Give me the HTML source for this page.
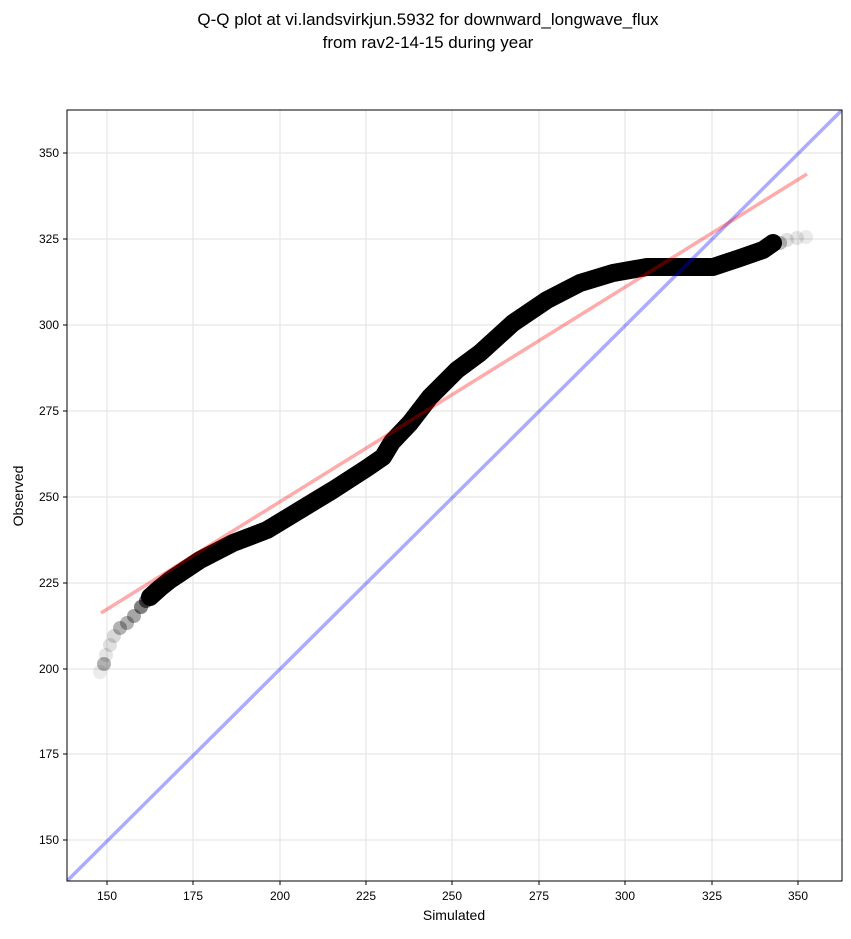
<!DOCTYPE html>
<html><head><meta charset="utf-8"><style>
body{margin:0;background:#fff;}
text{font-family:"Liberation Sans","DejaVu Sans",sans-serif;}
</style></head><body>
<svg width="851" height="934" viewBox="0 0 851 934" xmlns="http://www.w3.org/2000/svg">
<rect width="851" height="934" fill="#fff"/>
<text x="428" y="25" font-size="17" text-anchor="middle">Q-Q plot at vi.landsvirkjun.5932 for downward_longwave_flux</text>
<text x="428" y="48" font-size="17" text-anchor="middle">from rav2-14-15 during year</text>
<clipPath id="c"><rect x="67" y="110" width="775" height="771"/></clipPath>
<g stroke="#e6e6e6" stroke-width="1.2">
<line x1="107" y1="110" x2="107" y2="881"/><line x1="193" y1="110" x2="193" y2="881"/><line x1="280" y1="110" x2="280" y2="881"/><line x1="366" y1="110" x2="366" y2="881"/><line x1="452" y1="110" x2="452" y2="881"/><line x1="539" y1="110" x2="539" y2="881"/><line x1="625" y1="110" x2="625" y2="881"/><line x1="712" y1="110" x2="712" y2="881"/><line x1="798" y1="110" x2="798" y2="881"/>
<line x1="67" y1="153" x2="842" y2="153"/><line x1="67" y1="239" x2="842" y2="239"/><line x1="67" y1="325" x2="842" y2="325"/><line x1="67" y1="411" x2="842" y2="411"/><line x1="67" y1="497" x2="842" y2="497"/><line x1="67" y1="583" x2="842" y2="583"/><line x1="67" y1="669" x2="842" y2="669"/><line x1="67" y1="754" x2="842" y2="754"/><line x1="67" y1="840" x2="842" y2="840"/>
</g>
<g clip-path="url(#c)">
<g fill="#000">
<circle cx="100" cy="672" r="7" fill-opacity="0.08"/><circle cx="104" cy="664" r="7" fill-opacity="0.3"/><circle cx="106" cy="655" r="7" fill-opacity="0.1"/><circle cx="110" cy="645" r="7" fill-opacity="0.12"/><circle cx="114" cy="636" r="7" fill-opacity="0.15"/><circle cx="120" cy="628" r="7" fill-opacity="0.3"/><circle cx="127" cy="623" r="7" fill-opacity="0.3"/><circle cx="134" cy="616" r="7" fill-opacity="0.35"/><circle cx="141" cy="607" r="7" fill-opacity="0.5"/><circle cx="146" cy="601" r="7" fill-opacity="0.6"/>
<circle cx="787" cy="240" r="7" fill-opacity="0.12"/><circle cx="797" cy="238" r="7" fill-opacity="0.1"/><circle cx="806" cy="237" r="7" fill-opacity="0.08"/><circle cx="780" cy="243" r="7" fill-opacity="0.25"/>
</g>
<polyline fill="none" stroke="#000" stroke-width="18" stroke-linecap="round" stroke-linejoin="round"
points="150,597 160,588 170,580 185,570 200,560 233,543 267,530 300,510 333,490 367,468 383,457 392,442 410,423 430,397 457,370 480,353 513,323 547,300 580,283 613,273 647,267 713,267 740,258 763,250 773,243"/>
<line x1="67" y1="881" x2="842" y2="110" stroke="#0000ff" stroke-opacity="0.33" stroke-width="3.5"/>
<line x1="101" y1="613" x2="807" y2="174" stroke="#ff0000" stroke-opacity="0.33" stroke-width="3.5"/>
</g>
<rect x="67" y="110" width="775" height="771" fill="none" stroke="#000" stroke-width="1"/>
<g stroke="#000"><line x1="107" y1="881" x2="107" y2="885"/><line x1="193" y1="881" x2="193" y2="885"/><line x1="280" y1="881" x2="280" y2="885"/><line x1="366" y1="881" x2="366" y2="885"/><line x1="452" y1="881" x2="452" y2="885"/><line x1="539" y1="881" x2="539" y2="885"/><line x1="625" y1="881" x2="625" y2="885"/><line x1="712" y1="881" x2="712" y2="885"/><line x1="798" y1="881" x2="798" y2="885"/>
<line x1="63" y1="153" x2="67" y2="153"/><line x1="63" y1="239" x2="67" y2="239"/><line x1="63" y1="325" x2="67" y2="325"/><line x1="63" y1="411" x2="67" y2="411"/><line x1="63" y1="497" x2="67" y2="497"/><line x1="63" y1="583" x2="67" y2="583"/><line x1="63" y1="669" x2="67" y2="669"/><line x1="63" y1="754" x2="67" y2="754"/><line x1="63" y1="840" x2="67" y2="840"/></g>
<g font-size="12" text-anchor="middle">
<text x="107" y="900">150</text><text x="193" y="900">175</text><text x="280" y="900">200</text><text x="366" y="900">225</text><text x="452" y="900">250</text><text x="539" y="900">275</text><text x="625" y="900">300</text><text x="712" y="900">325</text><text x="798" y="900">350</text>
</g>
<g font-size="12" text-anchor="end">
<text x="59" y="157">350</text><text x="59" y="243">325</text><text x="59" y="329">300</text><text x="59" y="415">275</text><text x="59" y="501">250</text><text x="59" y="587">225</text><text x="59" y="673">200</text><text x="59" y="758">175</text><text x="59" y="844">150</text>
</g>
<text x="454" y="920" font-size="14" text-anchor="middle">Simulated</text>
<text transform="translate(23,496) rotate(-90)" font-size="14" text-anchor="middle">Observed</text>
</svg>
</body></html>
